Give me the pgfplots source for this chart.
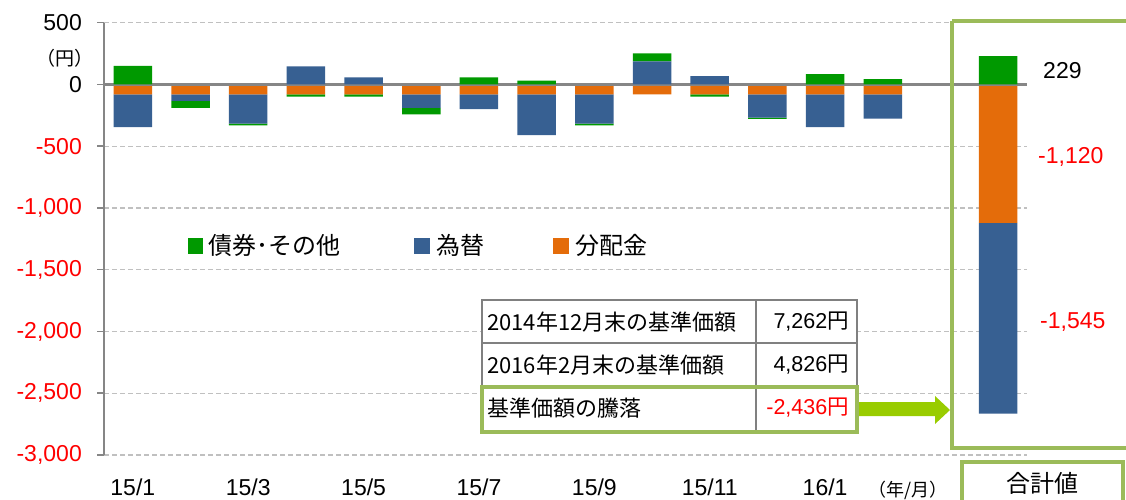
\documentclass[border=0pt]{standalone}
\usepackage{fontspec}
\setmainfont{Liberation Sans}
\newfontfamily\cjk{Noto Sans CJK JP}
\usepackage{pgfplots}
\pgfplotsset{compat=1.18}
\definecolor{cgreen}{RGB}{0,153,0}
\definecolor{cblue}{RGB}{55,96,146}
\definecolor{corange}{RGB}{228,108,10}
\definecolor{boxgreen}{RGB}{155,187,89}
\definecolor{arrowgreen}{RGB}{153,204,0}
\definecolor{axgray}{RGB}{134,134,134}
\definecolor{gridgray}{RGB}{192,192,192}
\definecolor{tabgray}{RGB}{128,128,128}
\pgfplotsset{
  common/.style={
    scale only axis, width=923pt, height=432.3pt,
    at={(104pt,44pt)}, anchor=south west,
    xmin=-0.5, xmax=15.5, ymin=-3000, ymax=500,
    ybar stacked, bar width=38.5pt,
  }
}
\begin{document}
\begin{tikzpicture}[x=1pt,y=1pt]
\path[use as bounding box] (0,0) rectangle (1126,499);
% ---------- axis A: grid, ticks, negative parts ----------
\begin{axis}[common,
  axis x line*=bottom, axis y line*=left,
  x axis line style={draw=none},
  y axis line style={draw=axgray, line width=2.3pt, -},
  ytick={-3000,-2500,-2000,-1500,-1000,-500,0,500},
  yticklabels={\textcolor{red}{-3,000},\textcolor{red}{-2,500},\textcolor{red}{-2,000},\textcolor{red}{-1,500},\textcolor{red}{-1,000},\textcolor{red}{-500},0,500},
  xtick={0,2,4,6,8,10,12},
  xticklabels={15/1,15/3,15/5,15/7,15/9,15/11,16/1},
  tick align=outside, major tick length=7pt,
  ytick style={draw=axgray, line width=1.5pt},
  xtick style={draw=none},
  ymajorgrids,
  major grid style={draw=gridgray, line width=1.3pt, dash pattern=on 5pt off 3pt},
  yticklabel style={font=\fontsize{23}{27}\selectfont, inner sep=0pt, xshift=-15pt},
  xticklabel style={font=\fontsize{23}{27}\selectfont, inner sep=0pt, yshift=-17pt},
  /pgf/number format/assume math mode=true,
]
% 分配金 (orange)
\addplot[fill=corange, draw=none] coordinates {(0,-80) (1,-80) (2,-80) (3,-80) (4,-80) (5,-80) (6,-80) (7,-80) (8,-80) (9,-80) (10,-80) (11,-80) (12,-80) (13,-80) (15,-1120)};
% 為替 negative part (blue)
\addplot[fill=cblue, draw=none] coordinates {(0,-265) (1,-53) (2,-238) (3,0) (4,0) (5,-110) (6,-120) (7,-330) (8,-238) (9,0) (10,0) (11,-188) (12,-265) (13,-197) (15,-1545)};
% 債券・その他 negative part (green)
\addplot[fill=cgreen, draw=none] coordinates {(0,0) (1,-57) (2,-13) (3,-18) (4,-18) (5,-52) (6,0) (7,0) (8,-13) (9,0) (10,-18) (11,-11) (12,0) (13,0) (15,0)};
\end{axis}
% ---------- axis B: positive parts ----------
\begin{axis}[common, hide axis]
% 為替 positive part (blue)
\addplot[fill=cblue, draw=none] coordinates {(0,0) (1,0) (2,0) (3,147) (4,57) (5,0) (6,0) (7,0) (8,0) (9,187) (10,68) (11,0) (12,0) (13,0) (15,0)};
% 債券・その他 positive part (green)
\addplot[fill=cgreen, draw=none] coordinates {(0,150) (1,0) (2,0) (3,0) (4,0) (5,0) (6,57) (7,30) (8,0) (9,65) (10,0) (11,0) (12,84) (13,43) (15,229)};
\draw[axgray, line width=2.7pt] (axis cs:-0.5,0) -- (axis cs:15.5,0);
\end{axis}
% ---------- annotations ----------
\node[font=\cjk\fontsize{19}{22}\selectfont] at (64.5,441) {（円）};
\node[font=\cjk\fontsize{18}{20}\selectfont, anchor=west, inner sep=0pt] at (868,9) {（年/月）};
% legend
\fill[cgreen] (188,245) rectangle (203,261);
\node[font=\cjk\fontsize{24}{28}\selectfont, anchor=west, inner sep=0pt] at (208,254) {債券･その他};
\fill[cblue] (414,245) rectangle (430,261);
\node[font=\cjk\fontsize{24}{28}\selectfont, anchor=west, inner sep=0pt] at (436,254) {為替};
\fill[corange] (553,245) rectangle (569,261);
\node[font=\cjk\fontsize{24}{28}\selectfont, anchor=west, inner sep=0pt] at (575,254) {分配金};
% table
\fill[white] (482,199) rectangle (857,67);
\draw[tabgray, line width=2.5pt] (482,199) rectangle (857,112);
\draw[tabgray, line width=2.5pt] (482,156) -- (857,156);
\draw[tabgray, line width=2.5pt] (756,199) -- (756,67);
\draw[boxgreen, line width=4pt] (482,112) rectangle (857,67);
\node[font=\cjk\fontsize{22}{24}\selectfont, anchor=west, inner sep=0pt] at (487,177) {2014年12月末の基準価額};
\node[font=\cjk\fontsize{22}{24}\selectfont, anchor=west, inner sep=0pt] at (487,134) {2016年2月末の基準価額};
\node[font=\cjk\fontsize{22}{24}\selectfont, anchor=west, inner sep=0pt] at (487,91) {基準価額の騰落};
\node[font=\fontsize{21.5}{24}\selectfont, anchor=east, inner sep=0pt] at (849,177) {7,262{\cjk 円}};
\node[font=\fontsize{21.5}{24}\selectfont, anchor=east, inner sep=0pt] at (849,134) {4,826{\cjk 円}};
\node[font=\fontsize{21.5}{24}\selectfont, anchor=east, inner sep=0pt, text=red] at (849,91) {-2,436{\cjk 円}};
% arrow
\fill[arrowgreen] (859,97) -- (935,97) -- (935,103) -- (950,89) -- (935,75) -- (935,83) -- (859,83) -- cycle;
% total box
\draw[boxgreen, line width=4pt] (952,478) -- (1140,478) (952,478) -- (952,51) -- (1140,51);
\draw[boxgreen, line width=4pt] (962,-10) -- (962,37) -- (1123,37) -- (1123,-10);
\node[font=\cjk\fontsize{24}{28}\selectfont] at (1042,16) {合計値};
% total labels
\node[font=\fontsize{23}{27}\selectfont, anchor=west, inner sep=0pt] at (1043,428) {229};
\node[font=\fontsize{23}{27}\selectfont, anchor=west, inner sep=0pt, text=red] at (1038,342) {-1,120};
\node[font=\fontsize{23}{27}\selectfont, anchor=west, inner sep=0pt, text=red] at (1040,177) {-1,545};
\end{tikzpicture}
\end{document}
